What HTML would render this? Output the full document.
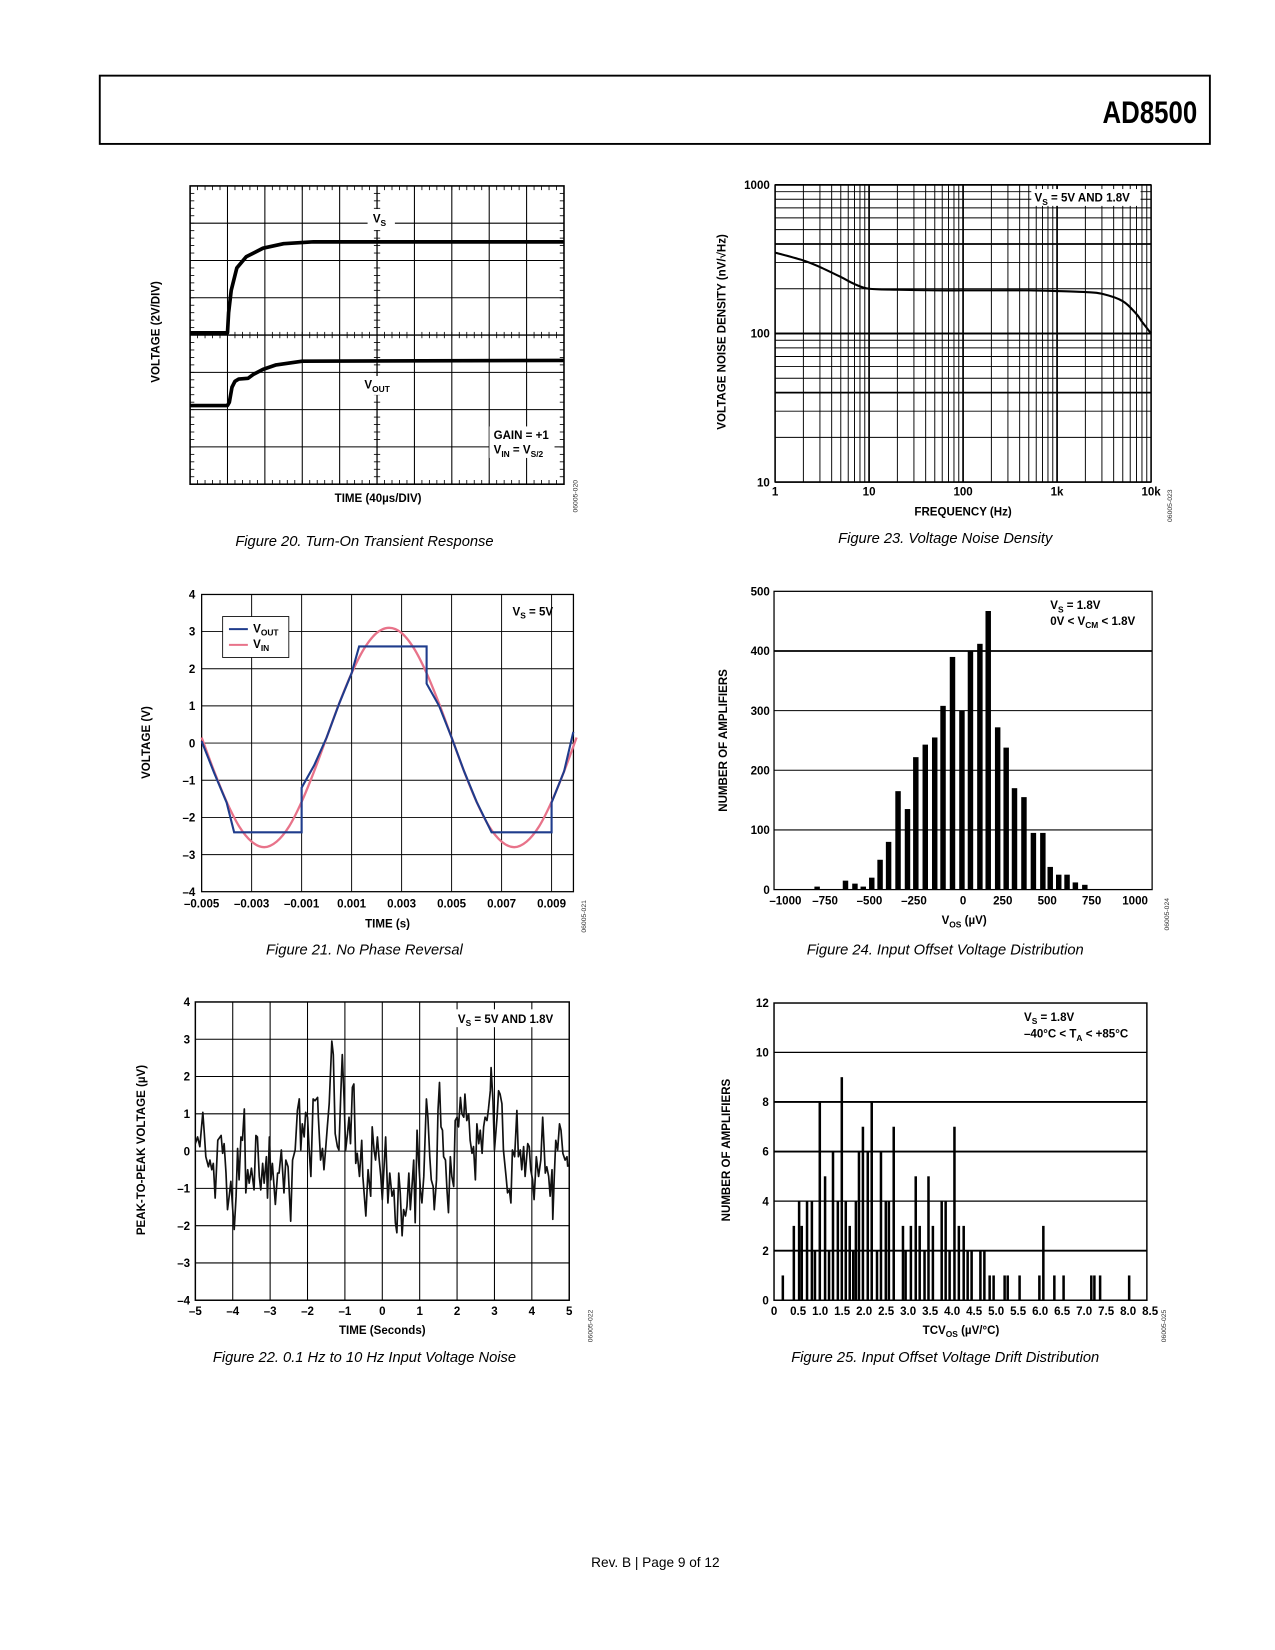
<!DOCTYPE html>
<html><head><meta charset="utf-8"><style>
html,body{margin:0;padding:0;background:#fff}
svg{display:block}
text{font-family:"Liberation Sans",sans-serif;fill:#000}
.t{font-size:11px;font-weight:bold}
.cap{font-size:14px;font-style:italic}
.code{font-size:6.5px;fill:#333}
</style></head><body>
<svg id="page" width="1275" height="1650" viewBox="0 0 1214 1571" xmlns="http://www.w3.org/2000/svg">
<rect x="95" y="72" width="1057" height="65" fill="none" stroke="#000" stroke-width="1.8"/>
<text x="1140" y="117" text-anchor="end" font-size="30" font-weight="bold" transform="translate(1140 0) scale(0.82 1) translate(-1140 0)">AD8500</text>

<g id="f20"></g>
<g id="f23"></g>
<g id="f21"></g>
<g id="f24"></g>
<g id="f22"></g>
<g id="f25"></g>

<!-- static labels -->
<text class="t" x="360" y="478" text-anchor="middle">TIME (40µs/DIV)</text>
<text class="t" transform="translate(152 316) rotate(-90)" text-anchor="middle">VOLTAGE (2V/DIV)</text>
<rect x="350" y="199" width="26" height="20" fill="#fff"/>
<text class="t" x="355" y="212">V<tspan font-size="8" dy="3">S</tspan></text>
<rect x="344" y="358" width="34" height="18" fill="#fff"/>
<text class="t" x="347" y="370">V<tspan font-size="8" dy="3">OUT</tspan></text>
<rect x="466" y="406" width="62" height="30" fill="#fff"/>
<text class="t" x="470" y="418">GAIN = +1</text>
<text class="t" x="470" y="432">V<tspan font-size="8" dy="3">IN</tspan><tspan dy="-3"> = V</tspan><tspan font-size="8" dy="3">S/2</tspan></text>
<text class="code" transform="translate(550 488) rotate(-90)">06005-020</text>
<text class="cap" x="347" y="520" text-anchor="middle">Figure 20. Turn-On Transient Response</text>

<text class="t" x="917" y="491" text-anchor="middle">FREQUENCY (Hz)</text>
<text class="t" transform="translate(691 316) rotate(-90)" text-anchor="middle">VOLTAGE NOISE DENSITY (nV/√Hz)</text>
<rect x="982" y="180" width="104" height="16" fill="#fff"/>
<text class="t" x="985" y="192">V<tspan font-size="8" dy="3">S</tspan><tspan dy="-3"> = 5V AND 1.8V</tspan></text>
<text class="code" transform="translate(1116 497) rotate(-90)">06005-023</text>
<text class="cap" x="900" y="517" text-anchor="middle">Figure 23. Voltage Noise Density</text>

<text class="t" x="369" y="883" text-anchor="middle">TIME (s)</text>
<text class="t" transform="translate(143 707) rotate(-90)" text-anchor="middle">VOLTAGE (V)</text>
<text class="t" x="488" y="586">V<tspan font-size="8" dy="3">S</tspan><tspan dy="-3"> = 5V</tspan></text>
<g>
<rect x="212" y="587" width="63" height="39" fill="#fff" stroke="#000" stroke-width="0.8"/>
<line x1="218" y1="599" x2="236" y2="599" stroke="#1f3c8c" stroke-width="2"/>
<text class="t" x="241" y="602">V<tspan font-size="8" dy="3">OUT</tspan></text>
<line x1="218" y1="614" x2="236" y2="614" stroke="#e8738a" stroke-width="2"/>
<text class="t" x="241" y="617">V<tspan font-size="8" dy="3">IN</tspan></text>
</g>
<text class="code" transform="translate(558 888) rotate(-90)">06005-021</text>
<text class="cap" x="347" y="909" text-anchor="middle">Figure 21. No Phase Reversal</text>

<text class="t" x="918" y="880" text-anchor="middle">V<tspan font-size="8" dy="3">OS</tspan><tspan dy="-3"> (µV)</tspan></text>
<text class="t" transform="translate(692 705) rotate(-90)" text-anchor="middle">NUMBER OF AMPLIFIERS</text>
<text class="t" x="1000" y="580">V<tspan font-size="8" dy="3">S</tspan><tspan dy="-3"> = 1.8V</tspan></text>
<text class="t" x="1000" y="595">0V &lt; V<tspan font-size="8" dy="3">CM</tspan><tspan dy="-3"> &lt; 1.8V</tspan></text>
<text class="code" transform="translate(1113 886) rotate(-90)">06005-024</text>
<text class="cap" x="900" y="909" text-anchor="middle">Figure 24. Input Offset Voltage Distribution</text>

<text class="t" x="364" y="1270" text-anchor="middle">TIME (Seconds)</text>
<text class="t" transform="translate(138 1095) rotate(-90)" text-anchor="middle">PEAK-TO-PEAK VOLTAGE (µV)</text>
<rect x="433" y="961" width="106" height="17" fill="#fff"/>
<text class="t" x="436" y="974">V<tspan font-size="8" dy="3">S</tspan><tspan dy="-3"> = 5V AND 1.8V</tspan></text>
<text class="code" transform="translate(564 1278) rotate(-90)">06005-022</text>
<text class="cap" x="347" y="1297" text-anchor="middle">Figure 22. 0.1 Hz to 10 Hz Input Voltage Noise</text>

<text class="t" x="915" y="1270" text-anchor="middle">TCV<tspan font-size="8" dy="3">OS</tspan><tspan dy="-3"> (µV/°C)</tspan></text>
<text class="t" transform="translate(695 1095) rotate(-90)" text-anchor="middle">NUMBER OF AMPLIFIERS</text>
<text class="t" x="975" y="972">V<tspan font-size="8" dy="3">S</tspan><tspan dy="-3"> = 1.8V</tspan></text>
<text class="t" x="975" y="988">–40°C &lt; T<tspan font-size="8" dy="3">A</tspan><tspan dy="-3"> &lt; +85°C</tspan></text>
<text class="code" transform="translate(1110 1278) rotate(-90)">06005-025</text>
<text class="cap" x="900" y="1297" text-anchor="middle">Figure 25. Input Offset Voltage Drift Distribution</text>

<text x="624" y="1492" text-anchor="middle" font-size="13">Rev. B | Page 9 of 12</text>
</svg>
<script>
// ---------- data ----------
// Fig 20 (divisions)
const vsT=[0,1.0,1.03,1.1,1.25,1.5,1.95,2.5,3.3,10];
const vsV=[4.06,4.06,4.6,5.2,5.8,6.1,6.33,6.45,6.5,6.5];
const voT=[0,1.0,1.05,1.12,1.2,1.3,1.55,1.7,1.95,2.3,3.0,10];
const voV=[2.11,2.11,2.2,2.6,2.76,2.82,2.84,2.95,3.08,3.2,3.3,3.32];
// Fig 23
const nFreq=[1,2,3,5,7,10,20,50,100,200,500,1000,2000,3000,5000,7000,8000,10000];
const nDens=[350,310,280,240,215,200,197,195,195,195,195,193,190,185,165,135,120,100];
const f23XTicks=[1,10,100,1000,10000];
const f23XLabels=["1","10","100","1k","10k"];
const f23YTicks=[10,100,1000];
// Fig 21
const vinT=[-0.005,-0.0045,-0.004,-0.0035,-0.003,-0.0025,-0.002,-0.0015,-0.001,-0.0005,0,0.0005,0.001,0.0015,0.002,0.0025,0.003,0.0035,0.004,0.0045,0.005,0.0055,0.006,0.0065,0.007,0.0075,0.008,0.0085,0.009,0.0095,0.01];
const vinV=[0.15,-0.76,-1.58,-2.24,-2.65,-2.8,-2.65,-2.24,-1.58,-0.76,0.15,1.06,1.88,2.54,2.96,3.1,2.96,2.54,1.88,1.06,0.15,-0.76,-1.58,-2.24,-2.65,-2.8,-2.65,-2.24,-1.58,-0.76,0.15];
const voutT=[-0.005,-0.0045,-0.004,-0.0037,-0.001,-0.001,-0.0005,0,0.0005,0.001,0.0013,0.004,0.004,0.0045,0.005,0.0055,0.006,0.0066,0.009,0.009,0.0095,0.00987];
const voutV=[0.05,-0.8,-1.6,-2.4,-2.4,-1.2,-0.6,0.15,1.06,1.88,2.6,2.6,1.6,1.0,0.15,-0.76,-1.58,-2.4,-2.4,-1.6,-0.76,0.3];
const f21XTicks=[-0.005,-0.003,-0.001,0.001,0.003,0.005,0.007,0.009];
const f21XLabels=["–0.005","–0.003","–0.001","0.001","0.003","0.005","0.007","0.009"];
const f21YTicks=[4,3,2,1,0,-1,-2,-3,-4];
// Fig 22
const noiseT=[-5.00,-4.94,-4.88,-4.80,-4.76,-4.72,-4.65,-4.61,-4.56,-4.52,-4.47,-4.40,-4.31,-4.27,-4.23,-4.18,-4.14,-4.09,-4.05,-4.00,-3.96,-3.91,-3.87,-3.83,-3.78,-3.74,-3.69,-3.65,-3.60,-3.56,-3.50,-3.43,-3.38,-3.34,-3.29,-3.25,-3.20,-3.16,-3.10,-3.07,-3.02,-2.98,-2.94,-2.86,-2.80,-2.76,-2.70,-2.63,-2.58,-2.52,-2.45,-2.40,-2.33,-2.27,-2.22,-2.18,-2.14,-2.09,-2.05,-2.00,-1.96,-1.91,-1.85,-1.80,-1.73,-1.71,-1.65,-1.60,-1.56,-1.51,-1.47,-1.42,-1.35,-1.31,-1.26,-1.20,-1.16,-1.11,-1.07,-1.02,-0.98,-0.93,-0.89,-0.85,-0.80,-0.76,-0.71,-0.67,-0.61,-0.55,-0.52,-0.44,-0.38,-0.31,-0.27,-0.22,-0.18,-0.13,-0.09,-0.04,0.00,0.09,0.15,0.20,0.26,0.31,0.35,0.39,0.44,0.48,0.53,0.57,0.62,0.66,0.71,0.75,0.80,0.84,0.88,0.93,0.97,1.02,1.06,1.11,1.18,1.22,1.27,1.31,1.36,1.39,1.45,1.49,1.53,1.57,1.61,1.64,1.69,1.73,1.77,1.82,1.86,1.91,1.95,2.00,2.04,2.09,2.13,2.18,2.21,2.26,2.31,2.35,2.40,2.44,2.49,2.53,2.58,2.62,2.67,2.71,2.75,2.80,2.84,2.89,2.91,2.96,3.00,3.07,3.11,3.15,3.20,3.24,3.31,3.35,3.40,3.44,3.48,3.54,3.60,3.64,3.69,3.73,3.78,3.82,3.89,3.93,3.97,4.02,4.06,4.12,4.18,4.24,4.29,4.36,4.40,4.45,4.49,4.54,4.56,4.60,4.64,4.69,4.74,4.78,4.83,4.89,4.94,4.96];
const noiseV=[0.20,0.38,0.12,1.04,0.47,-0.15,-0.42,-0.24,-0.50,-0.33,-1.26,0.29,0.42,-0.06,0.20,-0.59,-1.57,-1.17,-0.81,-1.57,-2.10,-1.21,0.07,-0.77,0.38,0.29,1.13,-1.12,-0.50,-0.86,-0.46,-1.04,0.42,0.38,-0.68,-1.04,-0.33,-0.86,-0.15,-1.26,0.38,-0.77,-0.33,-1.43,-0.59,-0.59,0.03,-1.12,-0.24,-0.42,-1.88,-0.24,0.03,1.09,1.40,0.03,0.73,0.38,1.04,0.91,0.12,-0.68,1.40,1.35,1.44,0.91,-0.24,0.07,-0.50,0.12,0.65,1.27,2.95,2.59,0.47,0.12,0.03,1.53,2.59,1.35,0.03,0.47,0.91,0.20,1.71,1.80,-0.33,-0.06,-0.68,0.29,-0.68,-1.74,-0.50,-1.21,0.65,0.03,-0.24,0.38,-0.15,-0.68,-1.30,0.38,-1.39,-0.59,-1.21,-1.04,-1.92,-2.19,-0.59,-1.12,-2.27,-1.57,-1.74,-1.48,-0.59,-1.57,-0.86,-0.24,-1.92,0.56,-0.24,-1.04,-1.39,-0.68,1.40,0.91,-0.15,-0.77,-0.95,-1.57,-0.77,1.09,1.84,0.65,0.56,-0.15,-0.24,-1.04,-1.65,-0.15,-0.68,-0.95,0.82,0.91,0.65,1.44,1.00,0.91,1.53,0.82,1.00,0.29,-0.06,0.12,-0.77,0.73,0.20,0.56,-0.06,0.65,0.91,0.82,1.13,1.62,2.24,1.35,0.03,0.91,1.62,1.53,1.27,0.03,-0.68,-1.12,-1.04,-1.39,0.03,-0.15,1.09,-0.15,0.03,-0.50,0.12,-0.68,0.20,0.12,-0.50,-0.77,-1.30,-0.15,-0.68,-0.24,0.91,-0.59,-0.42,-0.68,-1.21,-0.50,-1.83,-0.68,0.29,0.03,0.73,0.56,-0.06,-0.24,-0.15,-0.42];
const f22XTicks=[-5,-4,-3,-2,-1,0,1,2,3,4,5];
const f22XLabels=["–5","–4","–3","–2","–1","0","1","2","3","4","5"];
const f22YTicks=[4,3,2,1,0,-1,-2,-3,-4];
const f22YLabels=["4","3","2","1","0","–1","–2","–3","–4"];
// Fig 24
const vosBins=[-772,-622,-572,-528,-483,-439,-394,-344,-294,-250,-200,-150,-106,-56,-6,39,89,133,183,228,272,322,372,422,461,506,550,594,644];
const vosCounts=[5,15,10,5,20,50,80,165,135,222,243,255,308,390,300,400,412,467,272,238,170,155,95,95,38,25,25,12,8];
const f24YTicks=[0,100,200,300,400,500];
const f24XLabels=["–1000","–750","–500","–250","0","250","500","750","1000"];
const f24XLabelVals=[-940,-730,-495,-260,0,210,445,680,910];
// Fig 25
const tcBins=[0.20,0.45,0.57,0.63,0.75,0.86,0.93,1.04,1.16,1.25,1.34,1.45,1.54,1.63,1.72,1.80,1.86,1.93,2.02,2.13,2.22,2.34,2.43,2.54,2.61,2.72,2.93,2.99,3.11,3.22,3.31,3.42,3.51,3.61,3.81,3.90,3.99,4.10,4.20,4.31,4.40,4.49,4.69,4.78,4.90,4.99,5.24,5.31,5.58,6.03,6.12,6.37,6.58,7.21,7.28,7.41,8.07];
const tcCounts=[1,3,4,3,4,4,2,8,5,2,6,4,9,4,3,2,4,6,7,6,8,2,6,4,4,7,3,2,3,5,3,2,5,3,4,4,2,7,3,3,2,2,2,2,1,1,1,1,1,1,3,1,1,1,1,1,1];
const f25YTicks=[0,2,4,6,8,10,12];
const f25XTicks=[0,0.5,1,1.5,2,2.5,3,3.5,4,4.5,5,5.5,6,6.5,7,7.5,8,8.5];
const f25XLabels=["0","0.5","1.0","1.5","2.0","2.5","3.0","3.5","4.0","4.5","5.0","5.5","6.0","6.5","7.0","7.5","8.0","8.5"];

// ---------- helpers ----------
const NS="http://www.w3.org/2000/svg";
function mk(parent,tag,attrs){const e=document.createElementNS(NS,tag);for(const k in attrs)e.setAttribute(k,attrs[k]);parent.appendChild(e);return e;}
function ln(p,x1,y1,x2,y2,w){return mk(p,'line',{x1:x1,y1:y1,x2:x2,y2:y2,stroke:'#000','stroke-width':w});}
function tx(p,x,y,s,anchor){const e=mk(p,'text',{x:x,y:y,'text-anchor':anchor||'middle','class':'t'});e.textContent=s;return e;}
function poly(xs,ys,fx,fy){return xs.map((v,i)=>fx(v).toFixed(2)+','+fy(ys[i]).toFixed(2)).join(' ');}
function smoothPath(xs,ys,fx,fy){const P=xs.map((v,i)=>[fx(v),fy(ys[i])]);let d='M'+P[0][0]+','+P[0][1];for(let i=0;i<P.length-1;i++){const p0=P[Math.max(0,i-1)],p1=P[i],p2=P[i+1],p3=P[Math.min(P.length-1,i+2)];d+=' C'+(p1[0]+(p2[0]-p0[0])/6)+','+(p1[1]+(p2[1]-p0[1])/6)+' '+(p2[0]-(p3[0]-p1[0])/6)+','+(p2[1]-(p3[1]-p1[1])/6)+' '+p2[0]+','+p2[1];}return d;}

// ---------- Fig 20 ----------
(function(){
const g=document.getElementById('f20');
const L=181,R=537,T=177,B=461,dx=(R-L)/10,dy=(B-T)/8;
const X=d=>L+d*dx, Y=d=>B-d*dy;
for(let i=1;i<10;i++){const e=ln(g,X(i),T,X(i),B,i===5?1.2:1);
}
for(let j=1;j<8;j++){const e=ln(g,L,Y(j),R,Y(j),j===4?1.2:1);
}
for(let k=1;k<50;k++){const x=L+k*dx/5;
[[T,T+4],[B-4,B],[Y(4)-3,Y(4)+3]].forEach(s=>{const e=ln(g,x,s[0],x,s[1],0.8);
});}
for(let k=1;k<40;k++){const y=T+k*dy/5;
[[L,L+4],[R-4,R],[X(5)-3,X(5)+3]].forEach(s=>{const e=ln(g,s[0],y,s[1],y,0.8);
});}
const fr=mk(g,'rect',{x:L,y:T,width:R-L,height:B-T,fill:'none',stroke:'#000','stroke-width':1.5});

const a=mk(g,'polyline',{points:poly(vsT,vsV,X,Y),fill:'none',stroke:'#000','stroke-width':3.5,'stroke-linejoin':'round'});

const b=mk(g,'polyline',{points:poly(voT,voV,X,Y),fill:'none',stroke:'#000','stroke-width':3.5,'stroke-linejoin':'round'});

})();

// ---------- Fig 23 ----------
(function(){
const g=document.getElementById('f23');
const L=738,R=1096,T=176,B=459;
const X=f=>L+Math.log10(f)*89.5, Y=v=>T+(3-Math.log10(v))*141.5;
for(let d=1;d<=1000;d*=10){for(let m=1;m<=10;m++){const f=d*m;if(f>10000)continue;const e=ln(g,X(f),T,X(f),B,m===10||m===1?1.4:0.9);
}}
for(let d=10;d<=100;d*=10){for(let m=1;m<=10;m++){const v=d*m;const e=ln(g,L,Y(v),R,Y(v),(m===1||m===10)?1.6:(m===4?1.6:0.9));
}}
const fr=mk(g,'rect',{x:L,y:T,width:R-L,height:B-T,fill:'none',stroke:'#000','stroke-width':1.2});

f23XTicks.forEach((f,i)=>{const e=tx(g,X(f),472,f23XLabels[i]);
});
f23YTicks.forEach(v=>{const e=tx(g,L-5,Y(v)+4,String(v),'end');
});
const c=mk(g,'path',{d:smoothPath(nFreq,nDens,X,Y),fill:'none',stroke:'#000','stroke-width':2});

})();

// ---------- Fig 21 ----------
(function(){
const g=document.getElementById('f21');
const L=192,R=546,T=566,B=849;
const X=v=>L+(v+0.005)/0.001*23.8, Y=v=>707.5-v*35.4;
f21XTicks.forEach((v,i)=>{if(i>0){const e=ln(g,X(v),T,X(v),B,0.9);
}
const t=tx(g,X(v),864,f21XLabels[i]);
});
f21YTicks.forEach(v=>{if(v>-4&&v<4){const e=ln(g,L,Y(v),R,Y(v),0.9);
}
const t=tx(g,L-6,Y(v)+4,v<0?'–'+(-v):String(v),'end');
});
const fr=mk(g,'rect',{x:L,y:T,width:R-L,height:B-T,fill:'none',stroke:'#000','stroke-width':1.2});

const pk=mk(g,'path',{d:smoothPath(vinT,vinV,X,Y),fill:'none',stroke:'#e8738a','stroke-width':2.2});

const bl=mk(g,'polyline',{points:poly(voutT,voutV,X,Y),fill:'none',stroke:'#1f3c8c','stroke-width':2});

})();

// ---------- Fig 22 ----------
(function(){
const g=document.getElementById('f22');
const L=186,R=542,T=954,B=1238;
const X=v=>364+v*35.6, Y=v=>1096-v*35.5;
f22XTicks.forEach((v,i)=>{if(v>-5&&v<5){const e=ln(g,X(v),T,X(v),B,1);
}
const t=tx(g,X(v),1252,f22XLabels[i]);
});
f22YTicks.forEach((v,i)=>{if(v>-4&&v<4){const e=ln(g,L,Y(v),R,Y(v),1);
}
const t=tx(g,L-5,Y(v)+4,f22YLabels[i],'end');
});
const fr=mk(g,'rect',{x:L,y:T,width:R-L,height:B-T,fill:'none',stroke:'#000','stroke-width':1.4});

const n=mk(g,'polyline',{points:poly(noiseT,noiseV,X,Y),fill:'none',stroke:'#111','stroke-width':1.6,'stroke-linejoin':'round'});

})();

// ---------- Fig 24 ----------
(function(){
const g=document.getElementById('f24');
const L=737,R=1097,T=563,B=847;
const X=v=>L+(v+1000)*0.18, Y=n=>B-n*0.568;
f24YTicks.forEach(v=>{if(v>0&&v<500){const e=ln(g,L,Y(v),R,Y(v),v===400?1.6:1);
}
const t=tx(g,L-4,Y(v)+4,String(v),'end');
});
f24XLabels.forEach((s,i)=>{const t=tx(g,X(f24XLabelVals[i]),861,s);
});
vosBins.forEach((v,i)=>{const r=mk(g,'rect',{x:X(v)-2.6,y:Y(vosCounts[i]),width:5.2,height:B-Y(vosCounts[i]),fill:'#000'});
});
const fr=mk(g,'rect',{x:L,y:T,width:R-L,height:B-T,fill:'none',stroke:'#000','stroke-width':1.2});

})();

// ---------- Fig 25 ----------
(function(){
const g=document.getElementById('f25');
const L=737,R=1092,T=955,B=1238;
const X=v=>L+v*41.9, Y=n=>B-n*23.6;
f25YTicks.forEach(v=>{if(v>0&&v<12){const e=ln(g,L,Y(v),R,Y(v),(v===8||v===2||v===6)?1.8:1.2);
}
const t=tx(g,L-5,Y(v)+4,String(v),'end');
});
f25XTicks.forEach((v,i)=>{const t=tx(g,X(v)+(i===0?0:2),1252,f25XLabels[i]);
});
tcBins.forEach((v,i)=>{const r=mk(g,'rect',{x:X(v)-1.2,y:Y(tcCounts[i]),width:2.4,height:B-Y(tcCounts[i]),fill:'#000'});
});
const fr=mk(g,'rect',{x:L,y:T,width:R-L,height:B-T,fill:'none',stroke:'#000','stroke-width':1.4});

})();
</script>
</body></html>
